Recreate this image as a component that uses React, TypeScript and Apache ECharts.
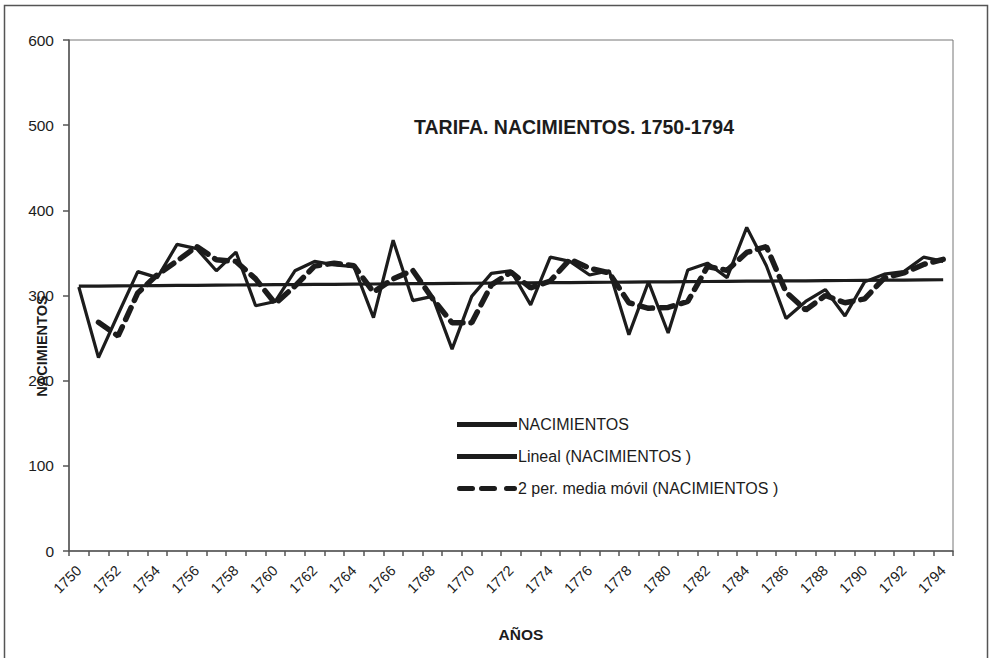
import React, { useEffect, useRef } from "react";
import * as echarts from "echarts";

const years = [
  "1750", "1751", "1752", "1753", "1754", "1755", "1756", "1757", "1758", "1759",
  "1760", "1761", "1762", "1763", "1764", "1765", "1766", "1767", "1768", "1769",
  "1770", "1771", "1772", "1773", "1774", "1775", "1776", "1777", "1778", "1779",
  "1780", "1781", "1782", "1783", "1784", "1785", "1786", "1787", "1788", "1789",
  "1790", "1791", "1792", "1793", "1794",
];

const nacimientos = [
  310, 227, 278, 328, 321, 360, 355, 329, 351, 288,
  293, 329, 340, 336, 334, 274, 365, 294, 299, 237,
  299, 326, 329, 289, 345, 340, 324, 329, 254, 316,
  256, 330, 338, 321, 380, 335, 273, 293, 307, 276,
  316, 325, 328, 345, 340,
];

const yTicks = [0, 100, 200, 300, 400, 500, 600];

const titleText = "TARIFA. NACIMIENTOS. 1750-1794";
const seriesNames = [
  "NACIMIENTOS",
  "Lineal (NACIMIENTOS )",
  "2 per. media móvil (NACIMIENTOS )",
];

// Excel-style derived series: linear trend and 2-period moving average
function linearTrend(v: number[]): number[] {
  const n = v.length;
  let sx = 0, sy = 0, sxx = 0, sxy = 0;
  v.forEach((y, i) => {
    const x = i + 1;
    sx += x; sy += y; sxx += x * x; sxy += x * y;
  });
  const b = (n * sxy - sx * sy) / (n * sxx - sx * sx);
  const a = (sy - b * sx) / n;
  return v.map((_, i) => a + b * (i + 1));
}
function movingAvg2(v: number[]): (number | null)[] {
  return v.map((y, i) => (i === 0 ? null : (v[i - 1] + y) / 2));
}

const FONT = "'Liberation Sans', Arial, sans-serif";
const INK = "#1c1c1c";

const SOLID_ICON = "path://M0,0 L60,0 L60,5 L0,5 Z";
const DASH_ICON =
  "path://M2.5,0 L15.5,0 A2.5,2.5 0 0 1 15.5,5 L2.5,5 A2.5,2.5 0 0 1 2.5,0 Z " +
  "M24.5,0 L37.5,0 A2.5,2.5 0 0 1 37.5,5 L24.5,5 A2.5,2.5 0 0 1 24.5,0 Z " +
  "M49.5,0 L57.5,0 A2.5,2.5 0 0 1 57.5,5 L49.5,5 A2.5,2.5 0 0 1 49.5,0 Z";

export default function App() {
  const ref = useRef<HTMLDivElement>(null);
  useEffect(() => {
    if (!ref.current) return;
    const chart = echarts.init(ref.current, undefined, { renderer: "svg" });
    chart.setOption({
      animation: false,
      backgroundColor: "#ffffff",
      title: {
        text: titleText,
        left: 414,
        top: 117,
        padding: 0,
        textStyle: { fontFamily: FONT, fontSize: 19.5, fontWeight: "bold", color: INK },
      },
      legend: {
        orient: "vertical",
        left: 457,
        top: 415,
        itemWidth: 60,
        itemHeight: 5,
        itemGap: 13,
        padding: 0,
        textStyle: { fontFamily: FONT, fontSize: 16, color: INK, padding: [0, 0, 0, -4], lineHeight: 19 },
        data: [
          { name: seriesNames[0], icon: SOLID_ICON },
          { name: seriesNames[1], icon: SOLID_ICON },
          { name: seriesNames[2], icon: DASH_ICON },
        ],
      },
      grid: {
        left: 69,
        right: 37,
        top: 40,
        bottom: 107,
        show: true,
        borderColor: "#777777",
        borderWidth: 1,
      },
      xAxis: {
        type: "category",
        data: years,
        boundaryGap: true,
        axisLine: { lineStyle: { color: "#555555", width: 1.5 } },
        axisTick: { show: true, interval: 0, length: 5, lineStyle: { color: "#555555", width: 1.5 } },
        axisLabel: {
          interval: 1,
          rotate: 45,
          margin: 17,
          fontFamily: FONT,
          fontSize: 14.5,
          color: INK,
        },
        splitLine: { show: false },
      },
      yAxis: {
        type: "value",
        min: yTicks[0],
        max: yTicks[yTicks.length - 1],
        interval: 100,
        axisLine: { show: true, lineStyle: { color: "#555555", width: 1.5 } },
        axisTick: { show: true, length: 6, lineStyle: { color: "#555555", width: 1.5 } },
        axisLabel: { margin: 15, fontFamily: FONT, fontSize: 15.5, color: INK },
        splitLine: { show: false },
      },
      series: [
        {
          name: seriesNames[0],
          type: "line",
          data: nacimientos,
          symbol: "none",
          lineStyle: { color: INK, width: 3.2 },
          itemStyle: { color: INK },
          z: 3,
        },
        {
          name: seriesNames[1],
          type: "line",
          data: linearTrend(nacimientos),
          symbol: "none",
          lineStyle: { color: INK, width: 3.2 },
          itemStyle: { color: INK },
          z: 2,
        },
        {
          name: seriesNames[2],
          type: "line",
          data: movingAvg2(nacimientos),
          symbol: "none",
          connectNulls: false,
          lineStyle: { color: INK, width: 5.5, type: [13, 8], cap: "round" },
          itemStyle: { color: INK },
          z: 4,
        },
      ],
      graphic: [
        {
          type: "rect",
          silent: true,
          shape: { x: 4.5, y: 5.5, width: 983, height: 660 },
          style: { fill: "none", stroke: "#555555", lineWidth: 1.5 },
        },
        {
          type: "text",
          x: 42,
          y: 346,
          rotation: Math.PI / 2,
          style: {
            text: "NACIMIENTOS",
            fontFamily: FONT,
            fontSize: 14.5,
            fontWeight: "bold",
            fill: INK,
            align: "center",
            verticalAlign: "middle",
          },
        },
        {
          type: "text",
          x: 521,
          y: 634,
          style: {
            text: "AÑOS",
            fontFamily: FONT,
            fontSize: 15.5,
            fontWeight: "bold",
            fill: INK,
            align: "center",
            verticalAlign: "middle",
          },
        },
      ],
    });
    return () => chart.dispose();
  }, []);
  return (
    <div
      ref={ref}
      style={{ position: "fixed", left: 0, top: 0, width: 990, height: 658 }}
    />
  );
}
